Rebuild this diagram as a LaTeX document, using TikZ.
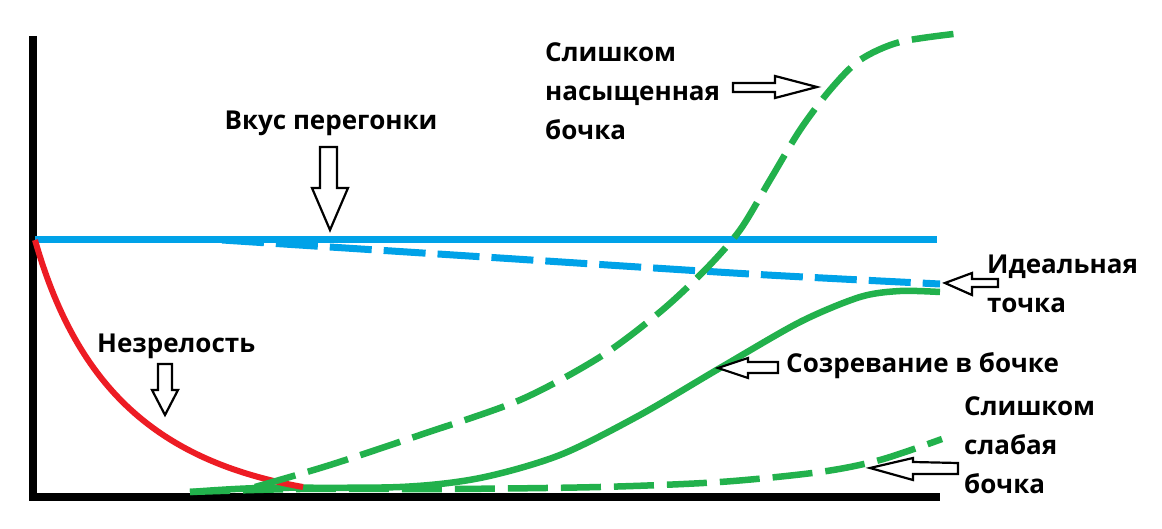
\documentclass[tikz,border=0pt]{standalone}
\usepackage{fontspec}
\setmainfont{Open Sans}
\usetikzlibrary{positioning}

\definecolor{paintblue}{RGB}{0,162,232}
\definecolor{paintgreen}{RGB}{34,177,76}
\definecolor{paintred}{RGB}{237,28,36}

\begin{document}
\begin{tikzpicture}[x=1pt, y=-1pt,
    caption/.style={font=\bfseries\fontsize{26}{39}\selectfont, align=left, inner sep=0pt},
    pointer/.style={draw, line width=2.2pt, fill=white, line join=miter},
    curve/.style={line width=6.5pt}]
    \useasboundingbox[fill=white] (0,0) rectangle (1162,529);

    % Draw axes
    \draw[line width=8pt] (33,36) -- (33,497) -- (940,497);

    % Draw distillate lines
    \draw[paintblue, line width=7pt] (35,240) -- (937,240);
    \draw[paintblue, line width=7pt, dash pattern=on 42pt off 12pt]
        plot[smooth] coordinates {(222,240) (500,258) (750,274) (940,284)};

    % Draw barrel curves
    \draw[paintgreen, curve, dash pattern=on 40pt off 13pt]
        plot[smooth] coordinates {(190,492) (300,489) (450,489) (600,487) (720,482) (820,472) (880,460) (942,439)};
    \draw[paintgreen, curve]
        plot[smooth] coordinates {(190,492) (260,488) (400,487) (480,478) (560,455) (640,415) (720,368) (800,322) (860,297) (900,291) (940,292)};
    \draw[paintred, line width=6pt] (35,240) .. controls (75,380) and (150,460) .. (303,487);
    \draw[paintgreen, curve, dash pattern=on 42pt off 13pt]
        plot[smooth] coordinates {(255,487) (330,465) (420,435) (520,400) (600,357) (660,312) (705,270) (740,230) (770,180) (800,130) (830,90) (860,60) (900,42) (962,33)};

    % Labels
    \node[caption] (taste) at (331,123) {Вкус перегонки};
    \node[caption, anchor=west] (rich) at (545,91) {Слишком\\насыщенная\\бочка};
    \node[caption, anchor=west] (ideal) at (987,284) {Идеальная\\точка};
    \node[caption, anchor=west] (barrel) at (786,366) {Созревание в бочке};
    \node[caption, anchor=west] (weak) at (964,445) {Слишком\\слабая\\бочка};
    \node[caption, anchor=west] (unripe) at (97,346) {Незрелость};

    % Pointers
    \draw[pointer] (320,147) -- (337,147) -- (337,188) -- (348,188) -- (330,230) -- (312,188) -- (320,188) -- cycle;
    \draw[pointer] (158,364) -- (172,364) -- (172,390) -- (178,390) -- (165,415) -- (152,390) -- (158,390) -- cycle;
    \draw[pointer] (733,83) -- (775,83) -- (775,76) -- (817,87) -- (775,98) -- (775,92) -- (733,92) -- cycle;
    \draw[pointer] (998,279) -- (972,279) -- (972,273) -- (945,283) -- (972,295) -- (972,287) -- (998,287) -- cycle;
    \draw[pointer] (778,362) -- (748,362) -- (748,358) -- (718,368) -- (748,378) -- (748,373) -- (778,373) -- cycle;
    \draw[pointer] (958,463) -- (913,462) -- (913,458) -- (870,468) -- (913,480) -- (913,474) -- (958,474) -- cycle;
\end{tikzpicture}
\end{document}
